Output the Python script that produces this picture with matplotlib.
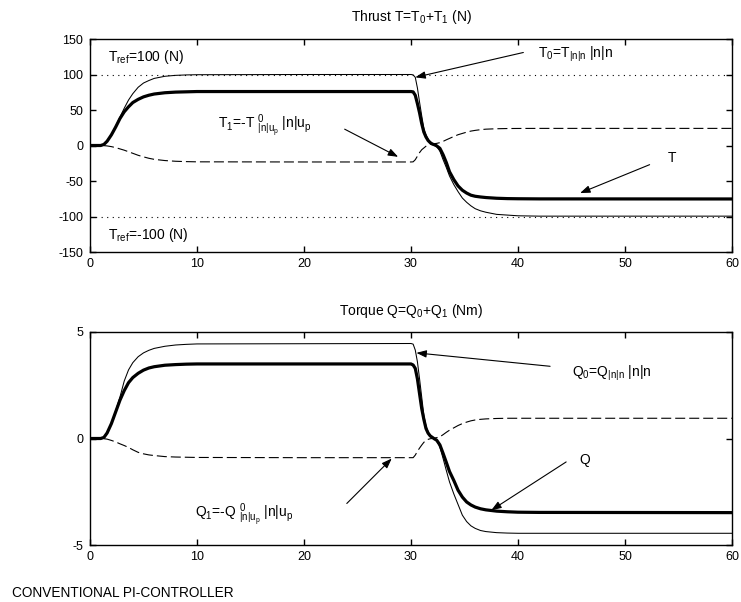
import matplotlib
matplotlib.use("Agg")
import matplotlib.pyplot as plt

plt.rcParams.update({
    "font.family": ["Liberation Sans", "DejaVu Sans"],
    "mathtext.fontset": "custom",
    "mathtext.rm": "Liberation Sans",
    "mathtext.it": "Liberation Sans",
    "mathtext.bf": "Liberation Sans:bold",
    "axes.unicode_minus": False,
})

# ---------------- data ----------------
time = [0, 1.0, 1.3, 1.6, 2.0, 2.4, 2.8, 3.2, 3.6, 4.0, 4.5, 5.0, 5.5, 6.0, 7.0,
        8.0, 9.0, 10, 20, 30, 30.2, 30.4, 30.6, 30.8, 31.0, 31.2, 31.4, 31.6,
        31.8, 32.0, 32.2, 32.4, 32.7, 33.0, 33.3, 33.6, 34.0, 34.4, 34.8, 35.2,
        35.6, 36.0, 36.5, 37.0, 38.0, 39, 40, 42, 60]

thrust_T0 = [0, 0, 1.5, 6, 15.5, 27, 40, 52.5, 64, 73, 82, 88, 91.5, 94.5, 97.5,
             98.8, 99.4, 99.7, 100, 100, 99.5, 96, 81, 61, 42, 24, 15, 9,
             4.5, 2, 0, -1.5, -8, -20, -31, -43, -55, -65, -74, -80,
             -85, -89, -92, -94, -97, -98, -99, -99.5, -99.5]
thrust_T = [0, 0, 1.5, 6, 15, 26, 38, 47.5, 54.5, 60.5, 65, 68.5, 70.8, 72.5, 74.3,
            75.2, 75.6, 76, 76, 76, 75.5, 70.7, 59, 46, 31, 19, 12, 7,
            4, 2, 1, -0.5, -4, -13, -24, -37, -48, -57, -63, -67,
            -70, -71.5, -72.5, -73.3, -74.3, -74.8, -75, -75.2, -75.3]
thrust_T1 = [0, 0, -0.2, -0.6, -1.6, -3, -4.8, -6.6, -8.8, -11, -13.8, -16, -18, -19.5, -21.2,
             -22.2, -22.7, -23, -23.2, -23.2, -23.0, -20, -15, -10, -6, -3.5, -1, 0.8,
             1.8, 2.3, 2.6, 3.0, 4, 5.8, 8, 10, 12.7, 15.2, 17, 18.8,
             20.3, 21.3, 22.3, 23, 23.6, 23.9, 24, 24.1, 24.1]
thrust_ref = [100, -100]

torque_Q0 = [0, 0, 0.05, 0.26, 0.72, 1.3, 1.95, 2.7, 3.22, 3.56, 3.84, 4.02, 4.14, 4.23, 4.33,
             4.39, 4.42, 4.44, 4.45, 4.46, 4.43, 4.15, 3.6, 2.8, 1.95, 1.09, 0.6, 0.31,
             0.15, 0.03, -0.03, -0.1, -0.4, -0.94, -1.5, -2.04, -2.6, -3.1, -3.6, -3.9,
             -4.1, -4.22, -4.32, -4.37, -4.42, -4.44, -4.45, -4.45, -4.45]
torque_Q = [0, 0, 0.05, 0.26, 0.7, 1.25, 1.8, 2.25, 2.62, 2.86, 3.06, 3.21, 3.31, 3.37, 3.44,
            3.47, 3.49, 3.5, 3.5, 3.5, 3.45, 3.29, 2.8, 2.1, 1.41, 0.9, 0.47, 0.25,
            0.12, 0.05, -0.02, -0.08, -0.3, -0.7, -1.12, -1.55, -1.97, -2.43, -2.75, -2.98,
            -3.12, -3.22, -3.3, -3.35, -3.41, -3.44, -3.46, -3.47, -3.48]
torque_Q1 = [0, 0, -0.01, -0.03, -0.09, -0.16, -0.25, -0.33, -0.42, -0.53, -0.65, -0.72, -0.77, -0.8, -0.85,
             -0.87, -0.88, -0.89, -0.9, -0.9, -0.9, -0.78, -0.6, -0.45, -0.31, -0.18, -0.09, -0.04,
             -0.01, 0.0, 0.02, 0.04, 0.08, 0.18, 0.29, 0.39, 0.5, 0.61, 0.7, 0.77,
             0.83, 0.87, 0.9, 0.92, 0.94, 0.95, 0.95, 0.95, 0.95]

x_ticks = [0, 10, 20, 30, 40, 50, 60]
thrust_ticks = [-150, -100, -50, 0, 50, 100, 150]
torque_ticks = [-5, 0, 5]

# ---------------- figure ----------------
W, H = 741, 602
fig = plt.figure(figsize=(W / 100, H / 100), dpi=100)
ax1 = fig.add_axes([90 / W, 1 - 252 / H, 642 / W, 213 / H])
ax2 = fig.add_axes([90 / W, 1 - 545 / H, 642 / W, 213 / H])

thin = dict(color="black", lw=0.75)
thick = dict(color="black", lw=2.3, zorder=4)
dash = dict(color="black", lw=0.8, linestyle=(0, (9, 3.6)))
arrow = dict(arrowstyle="-|>,head_length=0.6,head_width=0.22", color="black",
             lw=0.8, shrinkA=0, shrinkB=0, mutation_scale=10)
FS = 10

for ax in (ax1, ax2):
    ax.set_xlim(0, 60)
    ax.set_xticks(x_ticks)
    ax.tick_params(direction="in", top=True, right=True, length=4.3, width=1,
                   labelsize=9)
    ax.tick_params(axis="x", pad=4)
    ax.tick_params(axis="y", pad=5)
    for s in ax.spines.values():
        s.set_linewidth(1.0)

# ---- thrust ----
for r in thrust_ref:
    ax1.axhline(r, color="black", lw=0.8, linestyle=(0, (1, 4)))
ax1.plot(time, thrust_T0, **thin)
ax1.plot(time, thrust_T1, **dash)
ax1.plot(time, thrust_T, **thick)
ax1.set_ylim(-150, 150)
ax1.set_yticks(thrust_ticks)
ax1.text(0.5, 1 + 18.3 / 213, r"Thrust T=T$_0$+T$_1$ (N)", transform=ax1.transAxes,
         ha="center", va="baseline", fontsize=FS)

ax1.text(1.7, 119.5, r"T$_{ref}$=100 (N)", fontsize=FS, va="baseline")
ax1.text(1.7, -131.6, r"T$_{ref}$=-100 (N)", fontsize=FS, va="baseline")
ax1.text(41.9, 124, r"T$_0$=T$_{|n|n}$ |n|n", fontsize=FS, va="baseline")
ax1.annotate("", xy=(30.4, 96), xytext=(40.5, 131), arrowprops=arrow)
ax1.text(12.0, 24.3, r"T$_1$=-T ${}^{0}_{|n|u_p}$ |n|u$_p$", fontsize=FS, va="baseline")
ax1.annotate("", xy=(28.8, -16), xytext=(23.8, 23), arrowprops=arrow)
ax1.text(54.4, -17.6, "T", fontsize=FS, ha="center", va="center")
ax1.annotate("", xy=(45.8, -67), xytext=(52.3, -27), arrowprops=arrow)

# ---- torque ----
ax2.plot(time, torque_Q0, **thin)
ax2.plot(time, torque_Q1, **dash)
ax2.plot(time, torque_Q, **thick)
ax2.set_ylim(-5, 5)
ax2.set_yticks(torque_ticks)
ax2.text(0.5, 1 + 17 / 213, r"Torque Q=Q$_0$+Q$_1$ (Nm)", transform=ax2.transAxes,
         ha="center", va="baseline", fontsize=FS)

ax2.text(45.0, 2.89, r"Q$_0$=Q$_{|n|n}$ |n|n", fontsize=FS, va="baseline")
ax2.annotate("", xy=(30.5, 4.02), xytext=(43, 3.39), arrowprops=arrow)
ax2.text(46.2, -1.02, "Q", fontsize=FS, ha="center", va="center")
ax2.annotate("", xy=(37.5, -3.37), xytext=(44.5, -1.1), arrowprops=arrow)
ax2.text(9.8, -3.68, r"Q$_1$=-Q ${}^{0}_{|n|u_p}$ |n|u$_p$", fontsize=FS, va="baseline")
ax2.annotate("", xy=(28.2, -0.94), xytext=(24, -3.05), arrowprops=arrow)

fig.text(11.7 / W, 1 - 596.7 / H, "CONVENTIONAL PI-CONTROLLER", fontsize=9.8,
         va="baseline", ha="left")

fig.savefig("out.png", dpi=100, facecolor="white")
